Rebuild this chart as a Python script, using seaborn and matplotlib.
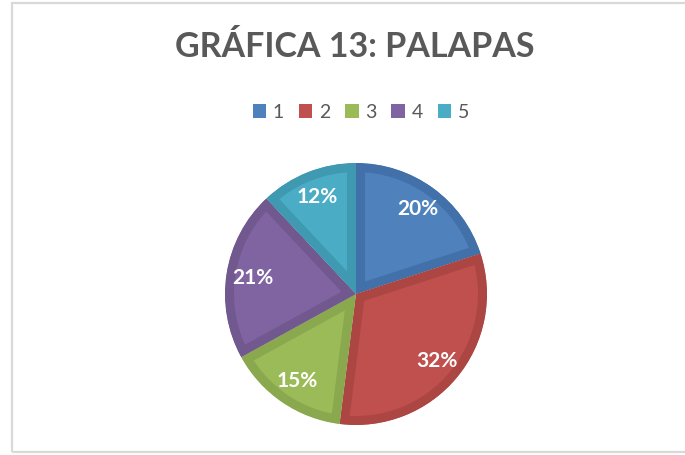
import matplotlib
matplotlib.use("Agg")
import matplotlib.pyplot as plt
import matplotlib.patches as mpatches
import seaborn as sns
import numpy as np

categories = ["1", "2", "3", "4", "5"]
values = [20, 32, 15, 21, 12]
title = "GRÁFICA 13: PALAPAS"

colors = ["#4F81BD", "#C0504D", "#9BBB59", "#8064A2", "#4BACC6"]
edge_colors = ["#4270A8", "#AC4643", "#8AA84E", "#71588F", "#3F9AB1"]

sns.set_theme(style="white")
plt.rcParams["font.family"] = ["Lato", "DejaVu Sans"]

fig = plt.figure(figsize=(6.85, 4.55), dpi=100)
fig.patch.set_facecolor("white")

W, H = 685, 455
cx, cy, r = 356, 294, 131
ax = fig.add_axes([(cx - r) / W, (H - cy - r) / H, 2 * r / W, 2 * r / H])

wedges, texts, autotexts = ax.pie(
    values, colors=colors, startangle=90, counterclock=False,
    autopct="%.0f%%", pctdistance=0.8, radius=1,
    textprops=dict(color="white", fontsize=15, fontweight="bold"),
)
ax.set_xlim(-1, 1)
ax.set_ylim(-1, 1)
ax.axis("off")
for w, ec in zip(wedges, edge_colors):
    w.set_edgecolor(ec)
    w.set_linewidth(13)
    w.set_joinstyle("miter")
    w.set_clip_on(True)
    w.set_clip_path(w)

fig.text(355 / W, 1 - 47 / H, title, ha="center", va="center",
         fontsize=24.5, fontweight="bold", color="#595959")

handles = [mpatches.Patch(facecolor=c, edgecolor="none") for c in colors]
fig.legend(handles, categories, loc="center", bbox_to_anchor=(361 / W, 1 - 112 / H),
           ncol=5, frameon=False, handlelength=0.7, handleheight=0.75,
           handletextpad=0.35, columnspacing=0.75, fontsize=14,
           labelcolor="#595959")

border = mpatches.Rectangle((12 / W, 3 / H), 1.0, 1 - 6 / H, transform=fig.transFigure,
                            fill=False, edgecolor="#D9D9D9", linewidth=1.6)
fig.patches.append(border)

fig.savefig("out.png", dpi=100)
